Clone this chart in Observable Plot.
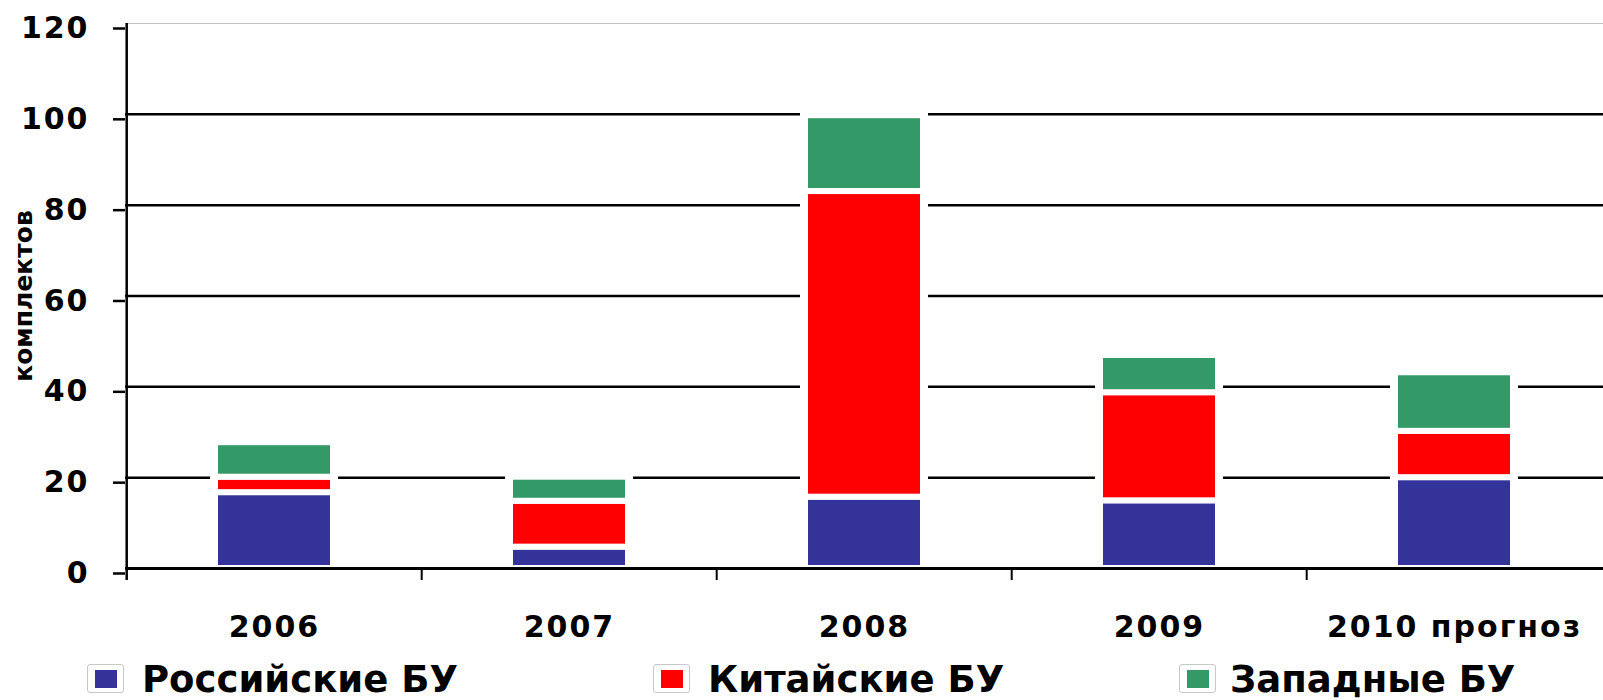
<!DOCTYPE html>
<html><head><meta charset="utf-8">
<script src="https://cdn.jsdelivr.net/npm/d3@7"></script>
<script src="https://cdn.jsdelivr.net/npm/@observablehq/plot@0.6"></script>
<style>
html,body{margin:0;padding:0;background:#fff;overflow:hidden;}
#chart{position:relative;width:1603px;height:700px;}
#chart svg{display:block;}
g[aria-label="x-axis tick label"] text, g[aria-label="y-axis tick label"] text{letter-spacing:2px;}
.legend{position:absolute;left:0;top:650px;width:1603px;height:50px;font-family:"DejaVu Sans";font-weight:bold;font-size:37px;color:#000;}
.box{position:absolute;top:14px;width:35px;height:27px;border:1px solid #c8c8c8;border-radius:3px;background:#fff;}
.box i{position:absolute;left:7px;top:5px;width:22px;height:18px;}
.label{position:absolute;top:11px;line-height:37px;white-space:nowrap;}
</style>
</head><body>
<div id="chart"></div>
<script>
// ---- data ----
const years = ["2006", "2007", "2008", "2009", "2010 прогноз"];
const series = ["Российские БУ", "Китайские БУ", "Западные БУ"];
const seriesColors = ["#333399", "#ff0000", "#339966"];
const russian = [16.7, 4.7, 15.7, 14.9, 20.0];
const chinese = [3.4, 10.1, 67.3, 23.8, 10.2];
const western = [7.6, 5.3, 16.7, 8.2, 12.9];
const yTicks = [0, 20, 40, 60, 80, 100, 120];
const yTitle = "комплектов";

// ---- layout ----
const W = 1603, H = 650, mL = 125, mR = 0, mT = 23, mB = 82;
const step = (W - mL - mR) / years.length;
const legendBoxX = [87, 653, 1179];
const legendTextX = [142, 708, 1230];

const valuesBySeries = [russian, chinese, western];
const rows = series.flatMap((s, si) => years.map((y, yi) => ({year: y, series: s, value: valuesBySeries[si][yi]})));
const yMin = yTicks[0], yMax = yTicks[yTicks.length - 1];

const plot = Plot.plot({
  width: W, height: H,
  marginLeft: mL, marginRight: mR, marginTop: mT, marginBottom: mB,
  style: {fontFamily: "DejaVu Sans", fontWeight: "bold", fontSize: "30px", color: "#000", background: "#fff", overflow: "visible"},
  x: {domain: years, paddingInner: 0.6, paddingOuter: 0.3},
  y: {domain: [yMin, yMax]},
  color: {domain: series, range: seriesColors},
  marks: [
    Plot.ruleY(yTicks.slice(1, -1), {stroke: "#000", strokeWidth: 2.5}),
    Plot.ruleY(yTicks.slice(-1), {stroke: "#c0c0c0", strokeWidth: 1}),
    Plot.barY(rows, Plot.groupX({y: "sum"}, {x: "year", y: "value", fill: "#fff", stroke: "#fff", strokeWidth: 10})),
    Plot.barY(rows, {x: "year", y: "value", fill: "series", stroke: "#fff", strokeWidth: 6}),
    Plot.ruleY([yMin], {stroke: "#000", strokeWidth: 3}),
    Plot.ruleX(years.slice(0, 1), {dx: -step / 2, y1: yMax, y2: yMin, insetBottom: -12, stroke: "#000", strokeWidth: 2.5}),
    Plot.ruleX(years.slice(1), {dx: -step / 2, y1: yMin, y2: yMin, insetBottom: -12, stroke: "#000", strokeWidth: 2}),
    Plot.axisY({ticks: yTicks, tickSize: 12, tickPadding: 24, strokeWidth: 2.5, dy: 5, fontSize: 30, label: null}),
    Plot.axisX({tickSize: 0, tickPadding: 47, fontSize: 30, label: null}),
    Plot.text([yTitle], {frameAnchor: "left", textAnchor: "middle", dx: 23 - mL, rotate: -90, fontSize: 25, ariaLabel: "y-title"})
  ]
});

const yt = plot.querySelector('g[aria-label="y-title"] text');
if (yt) yt.setAttribute("transform", (yt.getAttribute("transform") || "") + " scale(1,1.3)");

const chart = document.getElementById("chart");
chart.appendChild(plot);

const legend = document.createElement("div");
legend.className = "legend";
series.forEach((s, i) => {
  const box = document.createElement("div");
  box.className = "box";
  box.style.left = legendBoxX[i] + "px";
  const sw = document.createElement("i");
  sw.style.background = seriesColors[i];
  box.appendChild(sw);
  const lab = document.createElement("div");
  lab.className = "label";
  lab.style.left = legendTextX[i] + "px";
  lab.textContent = s;
  legend.appendChild(box);
  legend.appendChild(lab);
});
chart.appendChild(legend);
</script>
</body></html>
